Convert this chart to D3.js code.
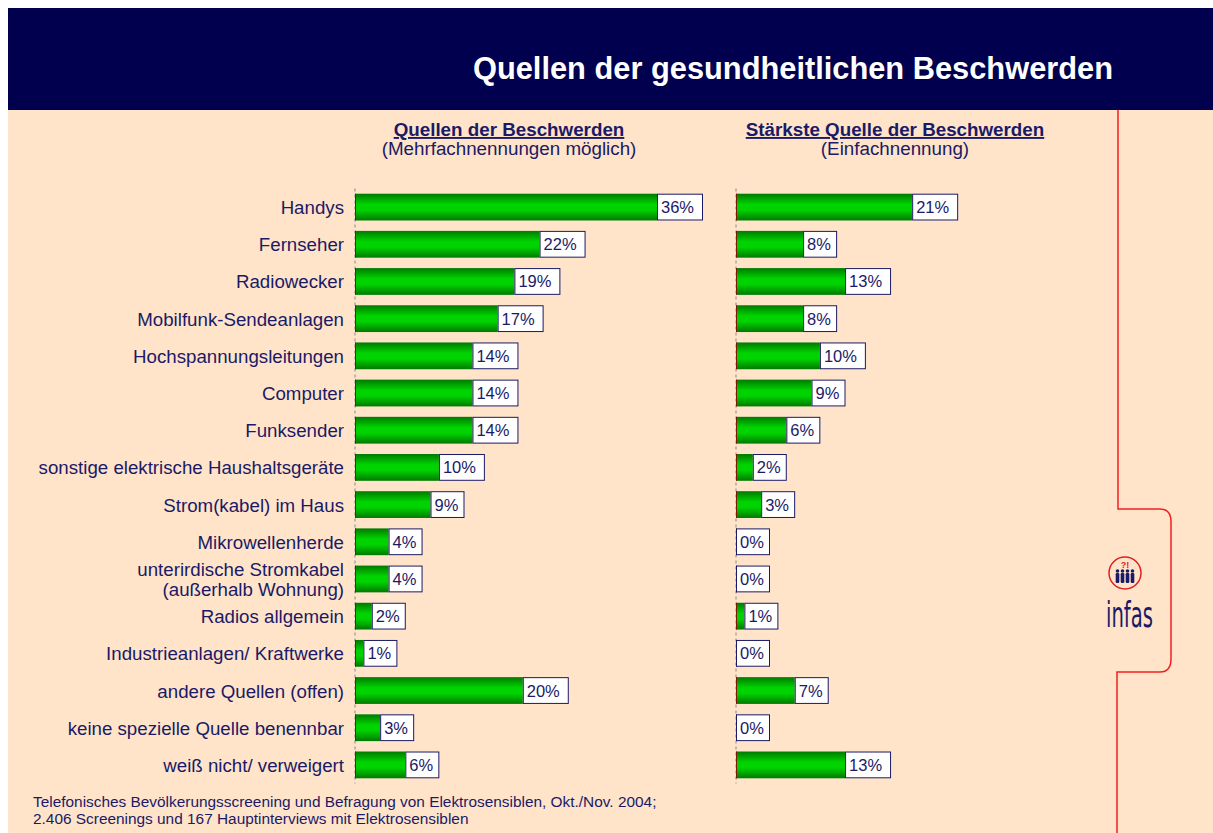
<!DOCTYPE html>
<html>
<head>
<meta charset="utf-8">
<script src="https://cdn.jsdelivr.net/npm/d3@7"></script>
<style>
  body { margin: 0; background: #fff; }
  text { font-family: "Liberation Sans", Arial, sans-serif; }
</style>
</head>
<body>
<div id="chart"></div>
<script>
// chart data
const categories = [
  'Handys', 'Fernseher', 'Radiowecker', 'Mobilfunk-Sendeanlagen',
  'Hochspannungsleitungen', 'Computer', 'Funksender',
  'sonstige elektrische Haushaltsgeräte', 'Strom(kabel) im Haus',
  'Mikrowellenherde', 'unterirdische Stromkabel\n(außerhalb Wohnung)',
  'Radios allgemein', 'Industrieanlagen/ Kraftwerke', 'andere Quellen (offen)',
  'keine spezielle Quelle benennbar', 'weiß nicht/ verweigert'
];
const allSources = [36, 22, 19, 17, 14, 14, 14, 10, 9, 4, 4, 2, 1, 20, 3, 6];
const strongestSource = [21, 8, 13, 8, 10, 9, 6, 2, 3, 0, 0, 1, 0, 7, 0, 13];

const title = 'Quellen der gesundheitlichen Beschwerden';
const panelTitles = ['Quellen der Beschwerden', 'Stärkste Quelle der Beschwerden'];
const panelSubtitles = ['(Mehrfachnennungen möglich)', '(Einfachnennung)'];
const footer = [
  'Telefonisches Bevölkerungsscreening und Befragung von Elektrosensiblen, Okt./Nov. 2004;',
  '2.406 Screenings und 167 Hauptinterviews mit Elektrosensiblen'
];

const W = 1213, H = 833;
const navy = '#1a1a66';
const svg = d3.select('#chart').append('svg')
  .attr('width', W).attr('height', H);

// backgrounds
svg.append('rect').attr('x', 8).attr('y', 8).attr('width', W - 8).attr('height', H - 8)
  .attr('fill', '#ffe4ca');
svg.append('rect').attr('x', 8).attr('y', 8).attr('width', W - 8).attr('height', 102)
  .attr('fill', '#00004e');
svg.append('text')
  .attr('x', 1113).attr('y', 79)
  .attr('text-anchor', 'end')
  .attr('fill', '#fff')
  .style('font-size', '30.8px').style('font-weight', 'bold')
  .text(title);

// bar gradient
const defs = svg.append('defs');
const grad = defs.append('linearGradient').attr('id', 'barGrad')
  .attr('x1', 0).attr('y1', 0).attr('x2', 0).attr('y2', 1);
grad.append('stop').attr('offset', '0%').attr('stop-color', '#007a00');
grad.append('stop').attr('offset', '40%').attr('stop-color', '#00d400');
grad.append('stop').attr('offset', '60%').attr('stop-color', '#00d400');
grad.append('stop').attr('offset', '100%').attr('stop-color', '#007a00');

const y = d3.scaleBand()
  .domain(categories)
  .range([188.5, 783.5])
  .paddingInner(0.28)
  .paddingOuter(0.14);

const x = d3.scaleLinear().domain([0, 36]).range([0, 302]);

// category labels
categories.forEach(c => {
  const lines = c.split('\n');
  const cy = y(c) + y.bandwidth() / 2;
  const t = svg.append('text')
    .attr('x', 344)
    .attr('text-anchor', 'end')
    .attr('fill', navy)
    .style('font-size', '18.7px');
  lines.forEach((l, i) => {
    t.append('tspan')
      .attr('x', 344)
      .attr('y', cy + 7 + (i - (lines.length - 1) / 2) * 20)
      .text(l);
  });
});

function panel(values, x0, cx, i) {
  const g = svg.append('g').attr('transform', `translate(${x0},0)`);

  svg.append('text').attr('x', cx).attr('y', 136)
    .attr('text-anchor', 'middle').attr('fill', navy)
    .style('font-size', '18.8px').style('font-weight', 'bold')
    .style('text-decoration', 'underline')
    .text(panelTitles[i]);
  svg.append('text').attr('x', cx).attr('y', 155)
    .attr('text-anchor', 'middle').attr('fill', navy)
    .style('font-size', '18.8px')
    .text(panelSubtitles[i]);

  // dashed axis line
  g.append('line')
    .attr('x1', 0).attr('x2', 0)
    .attr('y1', y.range()[0]).attr('y2', y.range()[1])
    .attr('stroke', '#888').attr('stroke-dasharray', '3,3');

  const rows = g.selectAll('.row')
    .data(categories.map((c, k) => ({ c, v: values[k] })))
    .enter().append('g')
    .attr('class', 'row')
    .attr('transform', d => `translate(0,${y(d.c)})`);

  rows.filter(d => d.v > 0).append('rect')
    .attr('x', 0)
    .attr('width', d => x(d.v))
    .attr('height', y.bandwidth())
    .attr('fill', 'url(#barGrad)');

  rows.append('line')
    .attr('x1', 0.5).attr('x2', 0.5)
    .attr('y1', 0).attr('y2', y.bandwidth())
    .attr('stroke', '#7a1a00');

  rows.append('rect')
    .attr('x', d => x(d.v) + 0.5)
    .attr('y', 0.5)
    .attr('width', d => (d.v >= 10 ? 45 : 33))
    .attr('height', y.bandwidth() - 1)
    .attr('fill', '#fff')
    .attr('stroke', navy)
    .attr('stroke-width', 1);

  rows.append('text')
    .attr('x', d => x(d.v) + 4)
    .attr('y', y.bandwidth() / 2 + 6)
    .attr('fill', navy)
    .style('font-size', '16.5px')
    .text(d => d.v + '%');
}

panel(allSources, 355, 509, 0);
panel(strongestSource, 736, 895, 1);

// footer
footer.forEach((f, i) => {
  svg.append('text').attr('x', 33).attr('y', 807 + i * 17)
    .attr('fill', navy).style('font-size', '15.4px').text(f);
});

// red bracket + logo
svg.append('path')
  .attr('d', 'M1118,110 V509 H1160 Q1171,509 1171,522 V659 Q1171,672 1160,672 H1117 V833')
  .attr('fill', 'none').attr('stroke', '#f02020').attr('stroke-width', 1.5);

svg.append('circle').attr('cx', 1125).attr('cy', 573).attr('r', 16)
  .attr('fill', 'none').attr('stroke', '#e02020').attr('stroke-width', 1.5);
svg.append('text').attr('x', 1125).attr('y', 568)
  .attr('text-anchor', 'middle').attr('fill', '#e02020')
  .style('font-size', '9px').style('font-weight', 'bold').text('?!');
[-7.5, -2.5, 2.5, 7.5].forEach(dx => {
  svg.append('circle').attr('cx', 1125 + dx).attr('cy', 571).attr('r', 1.8).attr('fill', navy);
  svg.append('rect').attr('x', 1125 + dx - 1.8).attr('y', 573).attr('width', 3.6)
    .attr('height', 10).attr('rx', 1.2).attr('fill', navy);
});
svg.append('text').attr('x', 1106).attr('y', 627)
  .attr('fill', navy)
  .attr('textLength', 47).attr('lengthAdjust', 'spacingAndGlyphs')
  .style('font-size', '36px')
  .style('font-family', '"DejaVu Sans Condensed", "Liberation Sans Narrow", sans-serif')
  .text('infas');
</script>
</body>
</html>
